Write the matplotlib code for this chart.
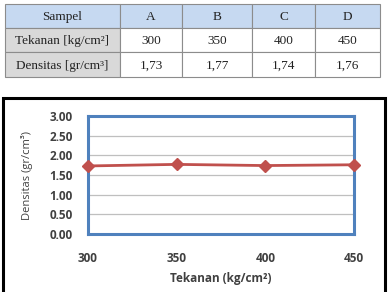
import matplotlib
matplotlib.use("Agg")
import matplotlib.pyplot as plt
from matplotlib.patches import Rectangle

# table data
row_labels = ["Sampel", "Tekanan [kg/cm²]", "Densitas [gr/cm³]"]
samples = ["A", "B", "C", "D"]
tekanan = [300, 350, 400, 450]
densitas = [1.73, 1.77, 1.74, 1.76]

W, H = 389, 292
fig = plt.figure(figsize=(W / 100, H / 100), dpi=100)

# overlay in pixel coordinates for table and outer frame
over = fig.add_axes([0, 0, 1, 1])
over.set_xlim(0, W)
over.set_ylim(H, 0)
over.axis("off")

col_x = [5, 120, 182, 252, 315, 380]
row_y = [4, 28, 52, 77]
header_col = "#c6d9f1"
label_col = "#d9d9d9"
cells = [
    [row_labels[0]] + samples,
    [row_labels[1]] + [str(t) for t in tekanan],
    [row_labels[2]] + [("%.2f" % d).replace(".", ",") for d in densitas],
]
for r in range(3):
    for c in range(5):
        x0, x1 = col_x[c], col_x[c + 1]
        y0, y1 = row_y[r], row_y[r + 1]
        if r == 0:
            fc = header_col
        elif c == 0:
            fc = label_col
        else:
            fc = "white"
        over.add_patch(Rectangle((x0, y0), x1 - x0, y1 - y0, facecolor=fc,
                                 edgecolor="#8c8c8c", linewidth=0.8))
        over.text((x0 + x1) / 2, (y0 + y1) / 2 + 1, cells[r][c], ha="center", va="center",
                  fontsize=9.5, family="Liberation Serif", color="#222222")

# outer chart frame
over.add_patch(Rectangle((3, 98), 382, 200, facecolor="white", edgecolor="black",
                         linewidth=2.2, zorder=0))

# chart
ax = fig.add_axes([88 / W, (H - 234) / H, (354 - 88) / W, (234 - 116) / H])
ax.plot(tekanan, densitas, color="#c0504d", linewidth=2, marker="D", markersize=6,
        clip_on=False, zorder=5)
ax.set_xlim(300, 450)
ax.set_ylim(0, 3)
ax.set_xticks(tekanan)
ax.set_yticks([0, 0.5, 1.0, 1.5, 2.0, 2.5, 3.0])
ax.set_yticklabels(["%.2f" % v for v in ax.get_yticks()])
ax.grid(axis="y", color="#bfbfbf", linewidth=0.9)
ax.set_axisbelow(True)
for s in ax.spines.values():
    s.set_color("#4f81bd")
    s.set_linewidth(2.2)
ax.tick_params(length=0, pad=11, labelsize=8.5, labelcolor="#404040")
ax.tick_params(axis="x", pad=13)
for lbl in ax.get_xticklabels() + ax.get_yticklabels():
    lbl.set_fontweight("bold")
    lbl.set_family("Open Sans")
ax.set_xlabel("Tekanan (kg/cm²)", fontsize=8.5, fontweight="bold", family="Open Sans",
              color="#404040", labelpad=5)
ax.set_ylabel("Densitas (gr/cm³)", fontsize=8, family="Open Sans", color="#404040",
              labelpad=12)

fig.savefig("out.png", dpi=100)
